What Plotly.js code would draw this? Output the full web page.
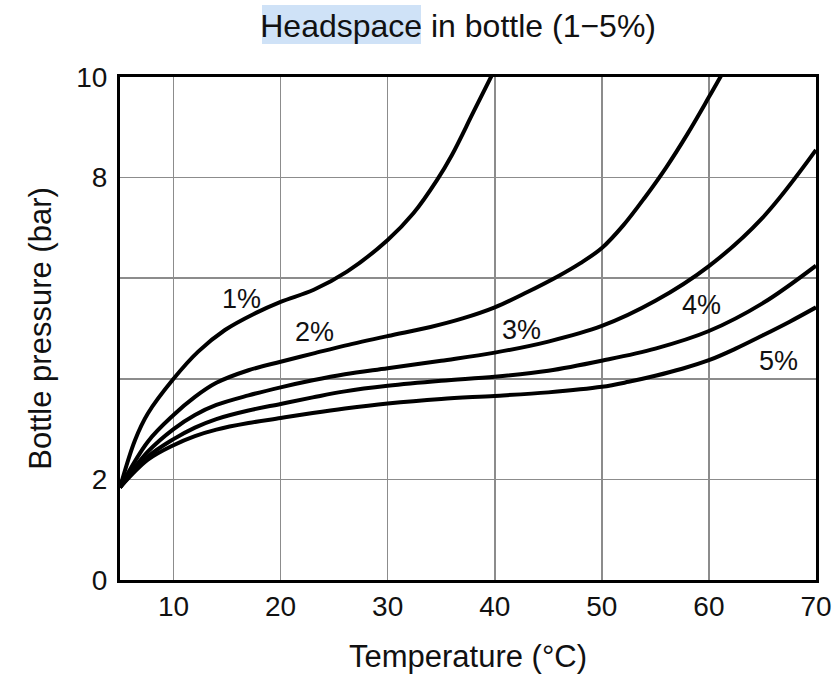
<!DOCTYPE html>
<html>
<head>
<meta charset="utf-8">
<script src="https://cdn.plot.ly/plotly-3.0.1.min.js"></script>
<style>
  html, body { margin: 0; padding: 0; background: #fff; }
  #chart { width: 836px; height: 676px; }
</style>
</head>
<body>
<div id="chart"></div>
<script>
// ---- Data ----
const seriesNames = ["1%", "2%", "3%", "4%", "5%"];

const x1 = [5, 6.4, 7.6, 10, 12.3, 14.8, 17.6, 20, 23.1, 26.2, 30, 32.4, 34.6, 36, 38, 40];
const y1 = [1.84, 2.78, 3.31, 4.0, 4.54, 4.97, 5.30, 5.53, 5.77, 6.13, 6.76, 7.29, 7.95, 8.45, 9.3, 10.15];

const x2 = [5, 7.6, 10, 12, 14, 17, 20, 23, 26, 30, 34, 37, 40, 43, 46, 48, 50, 52, 54, 56, 58, 60, 61.6];
const y2 = [1.84, 2.75, 3.28, 3.64, 3.92, 4.17, 4.34, 4.50, 4.66, 4.85, 5.03, 5.20, 5.42, 5.72, 6.05, 6.30, 6.60, 7.05, 7.60, 8.2, 8.87, 9.6, 10.2];

const x3 = [5, 7.6, 10, 12, 14, 17, 20, 23, 26, 30, 35, 40, 45, 50, 55, 60, 65, 70];
const y3 = [1.84, 2.55, 3.0, 3.28, 3.48, 3.67, 3.83, 3.97, 4.09, 4.21, 4.36, 4.52, 4.74, 5.05, 5.55, 6.24, 7.2, 8.55];

const x4 = [5, 7.6, 10, 12, 14, 17, 20, 23, 26, 30, 35, 40, 45, 50, 55, 60, 65, 70];
const y4 = [1.84, 2.45, 2.80, 3.03, 3.20, 3.37, 3.50, 3.63, 3.75, 3.86, 3.96, 4.04, 4.16, 4.36, 4.60, 4.95, 5.50, 6.25];

const x5 = [5, 7.6, 10, 12, 14, 17, 20, 23, 26, 30, 35, 40, 45, 50, 52.5, 55, 57.5, 60, 62.5, 65, 67.5, 70];
const y5 = [1.84, 2.39, 2.68, 2.86, 2.99, 3.12, 3.22, 3.32, 3.41, 3.51, 3.60, 3.66, 3.73, 3.84, 3.94, 4.06, 4.20, 4.37, 4.60, 4.86, 5.13, 5.42];

const xTickVals = [10, 20, 30, 40, 50, 60, 70];
const xTickText = ["10", "20", "30", "40", "50", "60", "70"];
const yTickVals = [0, 2, 4, 6, 8, 10];
const yTickText = ["0", "2", "", "", "8", "10"];

// label positions for the curve names (data coordinates)
const labelX = [16.3, 23.2, 42.5, 59.3, 66.5];
const labelY = [5.59, 4.93, 4.97, 5.47, 4.35];

const xs = [x1, x2, x3, x4, x5];
const ys = [y1, y2, y3, y4, y5];

const FONT = "Liberation Sans, Arial, Helvetica, sans-serif";

const traces = xs.map((xv, i) => ({
  x: xv,
  y: ys[i],
  name: seriesNames[i],
  type: "scatter",
  mode: "lines",
  line: { color: "#000", width: 4, shape: "spline", smoothing: 1 },
  hoverinfo: "skip"
}));

const annotations = seriesNames.map((n, i) => ({
  x: labelX[i], y: labelY[i], xref: "x", yref: "y",
  text: n, showarrow: false,
  font: { family: FONT, size: 27, color: "#111" },
  xanchor: "center", yanchor: "middle"
}));

const layout = {
  width: 836, height: 676,
  paper_bgcolor: "#fff", plot_bgcolor: "#fff",
  margin: { l: 120, r: 20, t: 77, b: 96 },
  showlegend: false,
  title: {
    text: "Headspace in bottle (1\u22125%)",
    font: { family: FONT, size: 32, color: "#111" },
    xref: "container", yref: "container",
    x: 0.548, xanchor: "center",
    y: 0.962, yanchor: "middle"
  },
  xaxis: {
    range: [5, 70],
    tickmode: "array", tickvals: xTickVals, ticktext: xTickText,
    showgrid: true, gridcolor: "#8c8c8c", gridwidth: 1.6,
    showline: true, linecolor: "#000", linewidth: 3, mirror: true,
    ticks: "", zeroline: false,
    ticklabelstandoff: -1,
    tickfont: { family: FONT, size: 28, color: "#111" },
    title: { text: "Temperature (\u00B0C)", standoff: 25,
             font: { family: FONT, size: 31, color: "#111" } }
  },
  yaxis: {
    range: [0, 10],
    tickmode: "array", tickvals: yTickVals, ticktext: yTickText,
    showgrid: true, gridcolor: "#8c8c8c", gridwidth: 1.6,
    showline: true, linecolor: "#000", linewidth: 3, mirror: true,
    ticks: "", zeroline: false,
    ticklabelstandoff: 4,
    tickfont: { family: FONT, size: 28, color: "#111" },
    title: { text: "Bottle pressure (bar)", standoff: 16,
             font: { family: FONT, size: 31, color: "#111" } }
  },
  shapes: [{
    type: "rect", xref: "paper", yref: "paper",
    x0: (262 - 120) / 696, x1: (421 - 120) / 696,
    y0: (580 - 44) / 503, y1: (580 - 5) / 503,
    fillcolor: "#cfe2f7", line: { width: 0 }, layer: "below"
  }],
  annotations: annotations
};

Plotly.newPlot("chart", traces, layout, { displayModeBar: false, staticPlot: true });
</script>
</body>
</html>
